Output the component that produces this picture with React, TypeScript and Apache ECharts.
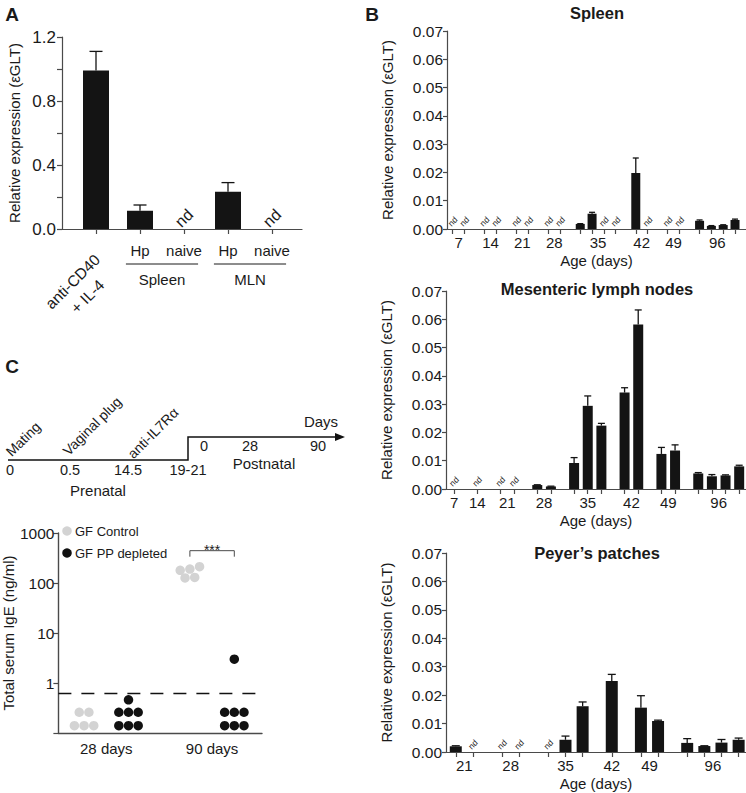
import React, { useEffect, useRef } from "react";
import * as echarts from "echarts";

const FONT = "'Liberation Sans', Arial, Helvetica, sans-serif";
const TXT = "#1a1a1a";
const AXIS = "#4a4a4a";
const BAR = "#141414";
const GRAY = "#d3d3d3";

// ---------------- Panel A ----------------
const aCategories = ["anti-CD40\n+ IL-4", "Hp", "naive", "Hp", "naive"];
const aGroupNames = ["Spleen", "MLN"];
const aGroupMembers = [[1, 2], [3, 4]];
const aValues: (number | null)[] = [0.99, 0.114, null, 0.233, null];
const aSem = [0.12, 0.036, 0, 0.057, 0];

// ---------------- Panel B ----------------
const yNameB = "Relative expression (εGLT)";
const spleenDays = ["7", "14", "21", "28", "35", "42", "49", "96"];
const spleenValues: (number | null)[][] = [
  [null, null], [null, null], [null, null], [null, null],
  [0.0018, 0.0054, null, null], [0.0198, null], [null, null],
  [0.0029, 0.0011, 0.0014, 0.0032],
];
const spleenSem = [
  [0, 0], [0, 0], [0, 0], [0, 0],
  [0.0001, 0.0005, 0, 0], [0.0053, 0], [0, 0],
  [0.0003, 0.0001, 0.0001, 0.0003],
];

const mlnDays = ["7", "14", "21", "28", "35", "42", "49", "96"];
const mlnValues: (number | null)[][] = [
  [null], [null], [null, null], [0.0014, 0.0009],
  [0.0092, 0.0294, 0.0224], [0.0341, 0.0582], [0.0124, 0.0136],
  [0.0055, 0.0045, 0.0048, 0.008],
];
const mlnSem = [
  [0], [0], [0, 0], [0.0001, 0.0001],
  [0.0019, 0.0035, 0.0008], [0.0017, 0.0051], [0.0023, 0.002],
  [0.0003, 0.0006, 0.0002, 0.0004],
];

const ppDays = ["21", "28", "35", "42", "49", "96"];
const ppValues: (number | null)[][] = [
  [0.002, null], [null, null], [null, 0.0043, 0.0161], [0.025],
  [0.0156, 0.0109], [0.0032, 0.0021, 0.0033, 0.0043],
];
const ppSem = [
  [0.0002, 0], [0, 0], [0, 0.0013, 0.0015], [0.0023],
  [0.0042, 0.0003], [0.0015, 0.0001, 0.0011, 0.0006],
];

// ---------------- Panel C ----------------
const cDays = ["28 days", "90 days"];
const cSeriesNames = ["GF Control", "GF PP depleted"];
const control28 = [0.26, 0.26, 0.14, 0.14, 0.14];
const depleted28 = [0.46, 0.26, 0.26, 0.26, 0.14, 0.14, 0.14];
const control90 = [212, 190, 179, 129, 126];
const depleted90 = [3.0, 0.26, 0.26, 0.26, 0.14, 0.14, 0.14];
const detectionLimit = 0.63;
const significance = "***";
const bracketLevel = 443;

const prenatalTicks = ["0", "0.5", "14.5", "19-21"];
const postnatalTicks = ["0", "28", "90"];
const timelineEvents = ["Mating", "Vaginal plug", "anti-IL7Rα"];

// ---------------- helpers ----------------
const GAP = 1.7;
function layoutGroups(values: (number | null)[][]) {
  const pos: number[][] = [];
  const centers: number[] = [];
  let p = 0;
  values.forEach((g) => {
    const arr = g.map((_, i) => p + i);
    pos.push(arr);
    centers.push((arr[0] + arr[arr.length - 1]) / 2);
    p = arr[arr.length - 1] + GAP;
  });
  return { pos, centers, flat: pos.flat() };
}

function swarm(values: number[], center: number, pitch: number): number[][] {
  const sorted = [...values].sort((a, b) => b - a);
  const rows: number[][] = [];
  sorted.forEach((v) => {
    const last = rows[rows.length - 1];
    if (last && Math.log10(last[last.length - 1]) - Math.log10(v) < 0.08) last.push(v);
    else rows.push([v]);
  });
  const out: number[][] = [];
  rows.forEach((r) => {
    const asc = [...r].sort((a, b) => a - b);
    asc.forEach((v, i) => out.push([center + (i - (asc.length - 1) / 2) * pitch, v]));
  });
  return out;
}

const txt = (size: number, extra: any = {}) => ({
  fontFamily: FONT,
  fontSize: size,
  color: TXT,
  ...extra,
});

const textStyle = (text: string, size: number, bold = false, lineHeight?: number) => {
  const s: any = {
    text,
    fontSize: size,
    fontFamily: FONT,
    fontWeight: bold ? "bold" : "normal",
    fill: TXT,
    align: "center",
    verticalAlign: "middle",
  };
  if (lineHeight) s.lineHeight = lineHeight;
  return s;
};

const rotText = (text: string, x: number, y: number, size: number, lineHeight?: number) => ({
  type: "text",
  x,
  y,
  rotation: Math.PI / 4,
  style: textStyle(text, size, false, lineHeight),
});

function errRender(cap: number, ndFont: number, ndLift: number) {
  return (params: any, api: any) => {
    const x = api.value(0);
    const v = api.value(1);
    const e = api.value(2);
    const nd = api.value(3);
    if (nd) {
      const base = api.coord([x, 0]);
      return rotText("nd", base[0], base[1] - ndLift, ndFont);
    }
    if (!e) return null;
    const top = api.coord([x, v]);
    const t2 = api.coord([x, v + e]);
    return {
      type: "group",
      children: [
        { type: "line", shape: { x1: top[0], y1: top[1], x2: t2[0], y2: t2[1] }, style: { stroke: BAR, lineWidth: 1.3 } },
        { type: "line", shape: { x1: t2[0] - cap / 2, y1: t2[1], x2: t2[0] + cap / 2, y2: t2[1] }, style: { stroke: BAR, lineWidth: 1.3 } },
      ],
    };
  };
}

type BPanel = {
  days: string[];
  values: (number | null)[][];
  sem: number[][];
  left: number;
  top: number;
  height: number;
  padL: number;
  padR: number;
  barWidth: number;
  cap: number;
};

const bPanels: BPanel[] = [
  { days: spleenDays, values: spleenValues, sem: spleenSem, left: 447, top: 31, height: 198, padL: 0.48, padR: 0.93, barWidth: 9, cap: 6 },
  { days: mlnDays, values: mlnValues, sem: mlnSem, left: 446, top: 291, height: 198, padL: 0.59, padR: 0.5, barWidth: 10, cap: 7 },
  { days: ppDays, values: ppValues, sem: ppSem, left: 446, top: 553, height: 199, padL: 0.57, padR: 0.43, barWidth: 12, cap: 8 },
];
const bTitles = ["Spleen", "Mesenteric lymph nodes", "Peyer\u2019s patches"];

function buildOption() {
  const grid: any[] = [];
  const xAxis: any[] = [];
  const yAxis: any[] = [];
  const series: any[] = [];

  const axisLine = { show: true, onZero: false, lineStyle: { color: AXIS, width: 1.2 } };
  const tickStyle = { color: AXIS, width: 1.2 };

  // ----- Panel A -----
  grid.push({ left: 62, top: 37, width: 240, height: 192 });
  const aPos = aCategories.map((_, i) => i + 1);
  xAxis.push({
    type: "value",
    gridIndex: 0,
    min: 1 - 34 / 44,
    max: 5 + 30 / 44,
    axisLine,
    axisTick: { show: true, customValues: aPos, length: 5, lineStyle: tickStyle },
    axisLabel: {
      customValues: aPos.slice(1),
      formatter: (v: number) => aCategories[Math.round(v) - 1],
      margin: 14,
      ...txt(15),
    },
    splitLine: { show: false },
  });
  yAxis.push({
    type: "value",
    gridIndex: 0,
    min: 0,
    max: 1.2,
    interval: 0.2,
    axisLine,
    axisTick: { show: true, length: 5, lineStyle: tickStyle },
    axisLabel: {
      formatter: (v: number) => (Math.abs(v / 0.4 - Math.round(v / 0.4)) < 1e-6 ? v.toFixed(1) : ""),
      margin: 6,
      ...txt(17),
    },
    splitLine: { show: false },
    name: yNameB,
    nameLocation: "middle",
    nameGap: 40,
    nameTextStyle: txt(15),
  });
  series.push({
    type: "bar",
    xAxisIndex: 0,
    yAxisIndex: 0,
    barWidth: 26,
    itemStyle: { color: BAR },
    data: aValues.map((v, i) => (v == null ? null : [aPos[i], v])).filter((d) => d),
  });
  series.push({
    type: "custom",
    xAxisIndex: 0,
    yAxisIndex: 0,
    renderItem: errRender(13, 16, 11),
    data: aValues.map((v, i) => [aPos[i], v ?? 0, aSem[i], v == null ? 1 : 0]),
    z: 5,
  });
  series.push({
    type: "custom",
    xAxisIndex: 0,
    yAxisIndex: 0,
    encode: { x: [0, 1], y: 2 },
    renderItem: (params: any, api: any) => {
      const a = api.coord([api.value(0), 0]);
      const b = api.coord([api.value(1), 0]);
      return {
        type: "group",
        children: [
          { type: "line", shape: { x1: a[0], y1: a[1] + 35, x2: b[0], y2: b[1] + 35 }, style: { stroke: TXT, lineWidth: 1 } },
          { type: "text", x: (a[0] + b[0]) / 2, y: a[1] + 50, style: textStyle(aGroupNames[params.dataIndex], 15) },
        ],
      };
    },
    data: aGroupMembers.map((m) => [aPos[m[0]] - 0.32, aPos[m[1]] + 0.32, 0]),
  });

  // ----- Panel B -----
  bPanels.forEach((p, k) => {
    const gi = k + 1;
    const L = layoutGroups(p.values);
    const last = L.flat[L.flat.length - 1];
    grid.push({ left: p.left, top: p.top, right: 0, height: p.height });
    xAxis.push({
      type: "value",
      gridIndex: gi,
      min: -p.padL,
      max: last + p.padR,
      axisLine,
      axisTick: { show: true, customValues: L.flat, length: 5, lineStyle: tickStyle },
      axisLabel: {
        customValues: L.centers,
        formatter: (v: number) => {
          let best = 0;
          L.centers.forEach((c, i) => {
            if (Math.abs(c - v) < Math.abs(L.centers[best] - v)) best = i;
          });
          return p.days[best];
        },
        margin: 6,
        ...txt(15),
      },
      splitLine: { show: false },
      name: "Age (days)",
      nameLocation: "middle",
      nameGap: 24,
      nameTextStyle: txt(15),
    });
    yAxis.push({
      type: "value",
      gridIndex: gi,
      min: 0,
      max: 0.07,
      interval: 0.01,
      axisLine,
      axisTick: { show: true, length: 4, lineStyle: tickStyle },
      axisLabel: { formatter: (v: number) => v.toFixed(2), margin: 4, ...txt(15.5) },
      splitLine: { show: false },
      name: yNameB,
      nameLocation: "middle",
      nameGap: 52,
      nameTextStyle: txt(15),
    });
    const barData: number[][] = [];
    const errData: number[][] = [];
    p.values.forEach((g, i) =>
      g.forEach((v, j) => {
        const x = L.pos[i][j];
        if (v != null) barData.push([x, v]);
        errData.push([x, v ?? 0, p.sem[i][j] || 0, v == null ? 1 : 0]);
      })
    );
    series.push({
      type: "bar",
      xAxisIndex: gi,
      yAxisIndex: gi,
      barWidth: p.barWidth,
      itemStyle: { color: BAR },
      data: barData,
    });
    series.push({
      type: "custom",
      xAxisIndex: gi,
      yAxisIndex: gi,
      renderItem: errRender(p.cap, 8.5, 7.5),
      data: errData,
      z: 5,
    });
  });

  // ----- Panel C -----
  const cGi = 4;
  grid.push({ left: 58, top: 533, width: 204, height: 200 });
  const cPos = cDays.map((_, i) => i + 1);
  xAxis.push({
    type: "value",
    gridIndex: cGi,
    min: 1 - 48 / 106,
    max: 2 + 50 / 106,
    axisLine: { show: true, onZero: false, lineStyle: { color: AXIS, width: 1.4 } },
    axisTick: { show: false },
    axisLabel: {
      customValues: cPos,
      formatter: (v: number) => cDays[Math.round(v) - 1],
      margin: 8,
      ...txt(15),
    },
    splitLine: { show: false },
  });
  yAxis.push({
    type: "log",
    logBase: 10,
    gridIndex: cGi,
    min: 0.1,
    max: 1000,
    axisLine: { show: true, onZero: false, lineStyle: { color: AXIS, width: 1.4 } },
    axisTick: { show: true, length: 5, lineStyle: tickStyle },
    axisLabel: { formatter: (v: number) => (v < 0.5 ? "" : String(Math.round(v))), margin: 4, ...txt(15.5) },
    splitLine: { show: false },
    minorTick: { show: false },
    name: "Total serum IgE (ng/ml)",
    nameLocation: "middle",
    nameGap: 37,
    nameTextStyle: txt(15),
  });
  const off = 0.21;
  const pitch = 0.0915;
  series.push({
    type: "scatter",
    name: cSeriesNames[0],
    xAxisIndex: cGi,
    yAxisIndex: cGi,
    symbol: "circle",
    symbolSize: 9.5,
    itemStyle: { color: GRAY, opacity: 1 },
    data: [...swarm(control28, cPos[0] - off, pitch), ...swarm(control90, cPos[1] - off, pitch)],
    markLine: {
      silent: true,
      symbol: "none",
      label: { show: false },
      lineStyle: { color: "#111", width: 1.3, type: [13, 10] },
      data: [{ yAxis: detectionLimit }],
    },
  });
  series.push({
    type: "scatter",
    name: cSeriesNames[1],
    xAxisIndex: cGi,
    yAxisIndex: cGi,
    symbol: "circle",
    symbolSize: 9.5,
    itemStyle: { color: "#111", opacity: 1 },
    data: [...swarm(depleted28, cPos[0] + off, pitch), ...swarm(depleted90, cPos[1] + off, pitch)],
  });
  series.push({
    type: "custom",
    xAxisIndex: cGi,
    yAxisIndex: cGi,
    encode: { x: [0, 1], y: 2 },
    renderItem: (params: any, api: any) => {
      const a = api.coord([api.value(0), api.value(2)]);
      const b = api.coord([api.value(1), api.value(2)]);
      return {
        type: "group",
        children: [
          {
            type: "polyline",
            shape: { points: [[a[0], a[1] + 6], [a[0], a[1]], [b[0], b[1]], [b[0], b[1] + 6]] },
            style: { stroke: AXIS, lineWidth: 1, fill: null },
          },
          { type: "text", x: (a[0] + b[0]) / 2, y: a[1] - 1, style: textStyle(significance, 14) },
        ],
      };
    },
    data: [[cPos[1] - off, cPos[1] + off, bracketLevel]],
  });

  // ----- graphic -----
  const gtext = (text: string, x: number, y: number, size: number, bold = false) => ({
    type: "text",
    x,
    y,
    style: textStyle(text, size, bold),
  });
  const graphic: any[] = [
    gtext("A", 12, 14, 19, true),
    gtext("B", 372, 14, 19, true),
    gtext("C", 12, 366, 19, true),
    gtext(bTitles[0], 597, 13, 16.5, true),
    gtext(bTitles[1], 597, 289, 16.5, true),
    gtext(bTitles[2], 597, 553, 16.5, true),
    rotText(aCategories[0], 80, 289, 15.5, 21),
    {
      type: "polyline",
      shape: { points: [[8, 460], [188, 460], [188, 437], [338, 437]] },
      style: { stroke: "#111", lineWidth: 1.5, fill: null },
    },
    {
      type: "polygon",
      shape: { points: [[335, 433], [345, 437], [335, 441]] },
      style: { fill: "#111" },
    },
    // legend (panel C)
    { type: "circle", x: 67, y: 531, shape: { r: 4.75 }, style: { fill: GRAY } },
    { type: "circle", x: 67, y: 553, shape: { r: 4.75 }, style: { fill: "#111" } },
    { type: "text", x: 75, y: 531, style: { ...textStyle(cSeriesNames[0], 13), align: "left" } },
    { type: "text", x: 75, y: 553, style: { ...textStyle(cSeriesNames[1], 13), align: "left" } },
  ];
  const preX = [10, 70, 128, 188];
  prenatalTicks.forEach((t, i) => graphic.push(gtext(t, preX[i], 470, 14.5)));
  const postX = [204, 250, 318];
  postnatalTicks.forEach((t, i) => graphic.push(gtext(t, postX[i], 446, 14.5)));
  graphic.push(gtext("Prenatal", 98, 490, 15));
  graphic.push(gtext("Postnatal", 264, 463, 15));
  graphic.push(gtext("Days", 321, 421, 15));
  const evPos = [[23, 439], [92, 426], [153, 433]];
  timelineEvents.forEach((t, i) => graphic.push(rotText(t, evPos[i][0], evPos[i][1], 14)));

  return {
    animation: false,
    grid,
    xAxis,
    yAxis,
    series,
    graphic,
  };
}

export default function App() {
  const ref = useRef<HTMLDivElement>(null);
  useEffect(() => {
    if (!ref.current) return;
    const chart = echarts.init(ref.current, null, { renderer: "svg" });
    chart.setOption(buildOption() as any);
    return () => chart.dispose();
  }, []);
  return (
    <div
      ref={ref}
      style={{ position: "fixed", left: 0, top: 0, width: 746, height: 793, background: "#fff" }}
    />
  );
}
